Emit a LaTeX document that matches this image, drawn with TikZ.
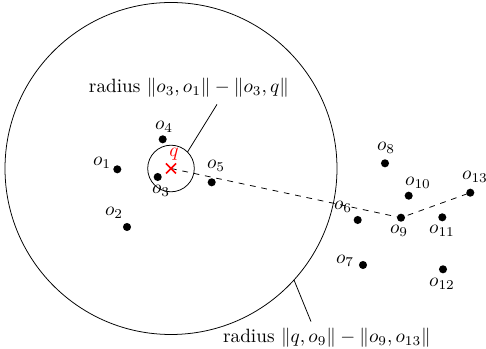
\documentclass[tikz,border=0pt]{standalone}
\usepackage{amsmath}
\usetikzlibrary{calc}
\begin{document}
\begin{tikzpicture}[x=0.52pt,y=-0.52pt,
  pt/.style={circle,fill=black,inner sep=0pt,minimum size=4.2pt},
  lbl/.style={inner sep=1pt}]
\useasboundingbox (0,0) rectangle (486,349);
% query
\coordinate (q) at (171,168.5);
\draw (q) circle[radius=166];
\draw (q) circle[radius=23.3];
% points
\node[pt] (o1) at (117.3,169.3) {};
\node[pt] (o2) at (127,227) {};
\node[pt] (o3) at (157.7,177) {};
\node[pt] (o4) at (162.7,139.3) {};
\node[pt] (o5) at (211.7,182.3) {};
\node[pt] (o6) at (357.7,220) {};
\node[pt] (o7) at (363,265) {};
\node[pt] (o8) at (385,163.3) {};
\node[pt] (o9) at (401,217.7) {};
\node[pt] (o10) at (408.7,195.7) {};
\node[pt] (o11) at (442.3,217.3) {};
\node[pt] (o12) at (443,269.3) {};
\node[pt] (o13) at (470.3,192.7) {};
% labels
\node[lbl] (l1) at (102,163) {$o_1$};
\node[lbl] (l2) at (114,213) {$o_2$};
\node[lbl] (l3) at (161,191) {$o_3$};
\node[lbl] (l4) at (164,127) {$o_4$};
\node[lbl] (l5) at (216,166) {$o_5$};
\node[lbl] (l6) at (343,207) {$o_6$};
\node[lbl] (l7) at (345,261) {$o_7$};
\node[lbl] (l8) at (386,148) {$o_8$};
\node[lbl] (l9) at (399,231) {$o_9$};
\node[lbl] (l10) at (418,183) {$o_{10}$};
\node[lbl] (l11) at (442,231) {$o_{11}$};
\node[lbl] (l12) at (442,284) {$o_{12}$};
\node[lbl] (l13) at (475,177) {$o_{13}$};
% dashed path
\draw[dashed] (q) -- (o9.center) -- (o13.center);
% query mark
\draw[red,thick] ($(q)+(-5,-5)$) -- ($(q)+(5,5)$) ($(q)+(-5,5)$) -- ($(q)+(5,-5)$);
\node[red,lbl] (lq) at (174,154) {$q$};
% annotations
\node (t1) at (189,88) {radius $\lVert o_3,o_1\rVert-\lVert o_3,q\rVert$};
\coordinate (c1) at (187.5,152);
\draw (c1) -- (t1.south -| 217,0);
\node (t2) at (327,338) {radius $\lVert q,o_9\rVert-\lVert o_9,o_{13}\rVert$};
\coordinate (c2) at (294,280);
\draw (c2) -- (t2.north -| 311,0);
\end{tikzpicture}
\end{document}
